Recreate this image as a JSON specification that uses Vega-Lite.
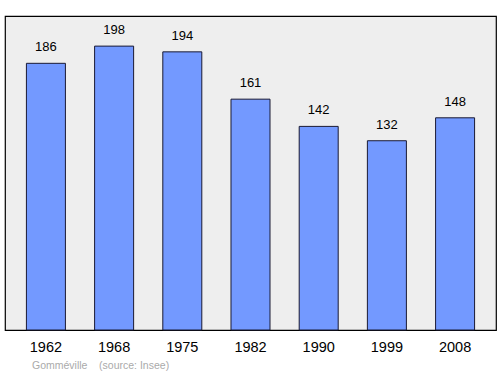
{
  "$schema": "https://vega.github.io/schema/vega-lite/v6.json",
  "width": 491,
  "height": 314,
  "autosize": {"type": "none"},
  "padding": {"left": 5, "top": 16, "right": 4, "bottom": 44},
  "background": "white",
  "config": {
    "view": {"fill": "#eeeeee", "stroke": "#000000", "strokeWidth": 1.2},
    "font": "Liberation Sans"
  },
  "title": {
    "text": "Gomméville\u00a0\u00a0\u00a0\u00a0(source: Insee)",
    "orient": "bottom",
    "anchor": "start",
    "offset": 7,
    "dx": 27,
    "fontSize": 10.5,
    "fontWeight": "normal",
    "color": "#aaaaaa",
    "font": "Liberation Sans"
  },
  "data": {
    "values": [
      {"year": "1962", "pop": 186},
      {"year": "1968", "pop": 198},
      {"year": "1975", "pop": 194},
      {"year": "1982", "pop": 161},
      {"year": "1990", "pop": 142},
      {"year": "1999", "pop": 132},
      {"year": "2008", "pop": 148}
    ]
  },
  "encoding": {
    "x": {
      "field": "year",
      "type": "ordinal",
      "scale": {"paddingInner": 0.428, "paddingOuter": 0.314},
      "axis": {"title": null, "labelAngle": 0, "ticks": false, "domain": false, "labelFontSize": 14.5, "labelPadding": 10, "labelColor": "#000000", "labelFont": "Liberation Sans"}
    },
    "y": {
      "field": "pop",
      "type": "quantitative",
      "scale": {"domain": [0, 219], "nice": false, "zero": true},
      "axis": null
    }
  },
  "layer": [
    {
      "mark": {"type": "bar", "fill": "#7399ff", "stroke": "#1a1a33", "strokeWidth": 1, "cornerRadius": 0}
    },
    {
      "mark": {"type": "text", "baseline": "bottom", "dy": -9, "fontSize": 13, "color": "#000000", "font": "Liberation Sans"},
      "encoding": {"text": {"field": "pop", "type": "quantitative"}}
    }
  ]
}
